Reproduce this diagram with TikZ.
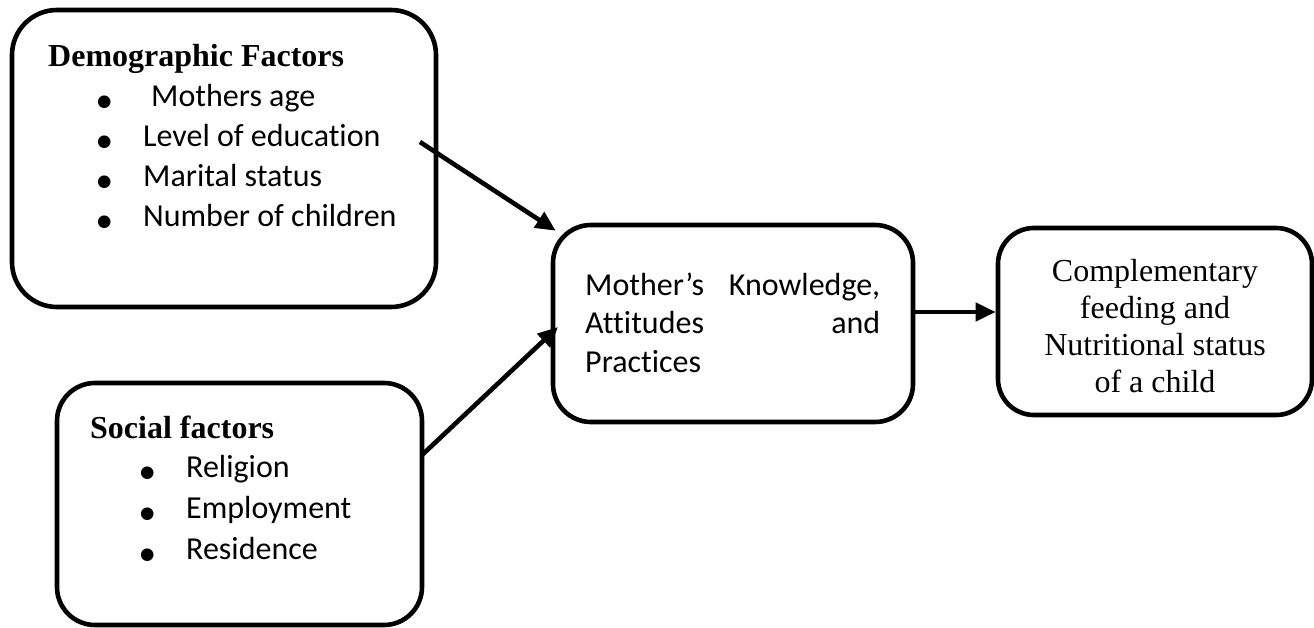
\documentclass[tikz,border=0pt]{standalone}
\usepackage{fontspec}
\setmainfont{Liberation Serif}
\newfontfamily\calib[Ligatures={NoCommon}]{Carlito}
\newfontfamily\symf{DejaVu Sans}
\usetikzlibrary{arrows.meta,calc}
\tikzset{
  box/.style={draw=black, line width=4.6pt, rounded corners=#1, fill=white},
  box/.default=40pt,
  hd/.style={anchor=base west, inner sep=0pt, font=\fontsize{32}{38}\selectfont\bfseries},
  item/.style={anchor=base west, inner sep=0pt, font=\calib\fontsize{32}{40}\selectfont},
  arr/.style={line width=4.6pt, -{Triangle[length=20pt,width=18pt]}},
}
\newcommand{\bul}[1]{\makebox[46pt][l]{{\symf\fontsize{16.5}{16.5}\selectfont ●}}#1}
\begin{document}
\begin{tikzpicture}[x=1pt,y=-1pt]
\useasboundingbox (0,0) rectangle (1314,628);
% boxes
\node[box=45pt, minimum width=424pt, minimum height=297pt, inner sep=0pt] (b1) at (224,158.5) {};
\node[box=38pt, minimum width=365pt, minimum height=242pt, inner sep=0pt] (b2) at (239.5,504) {};
\node[box=38pt, minimum width=360pt, minimum height=197pt, inner sep=0pt] (b3) at (733,323.5) {};
\node[box=36pt, minimum width=314pt, minimum height=187pt, inner sep=0pt] (b4) at (1155,321.5) {};
% box 1 text
\node[hd] (h1) at (48,67) {Demographic Factors};
\node[item] (d1) at (97,107) {\bul{\hspace{8pt}Mothers age}};
\node[item] (d2) at (97,147) {\bul{Level of education}};
\node[item] (d3) at (97,187) {\bul{Marital status}};
\node[item] (d4) at (97,227) {\bul{Number of children}};
% box 2 text
\node[hd] (h2) at (90,438) {Social factors};
\node[item] (s1) at (140,477) {\bul{Religion}};
\node[item] (s2) at (140,518) {\bul{Employment}};
\node[item] (s3) at (140,559) {\bul{Residence}};
% box 3 text
\node[anchor=base west, inner sep=0pt, align=left, font=\calib\fontsize{32}{38.5}\selectfont] (t3) at (585,372)
  {\makebox[295pt][s]{Mother’s Knowledge,}\\\makebox[295pt][s]{Attitudes and}\\Practices};
% box 4 text
\node[align=center, inner sep=0pt, font=\fontsize{32}{37}\selectfont] (t4) at (1155,326)
  {Complementary\\feeding and\\Nutritional status\\of a child};
% arrows
\coordinate (a1s) at (420,142);
\coordinate (a1e) at ($(b3.north west)+(5,8)$);
\coordinate (a2s) at (422,455);
\coordinate (a2e) at (558,327);
\coordinate (a3s) at (b3.east |- 0,312);
\coordinate (a3e) at (b4.west |- 0,312);
\draw[arr] (a1s) -- (a1e);
\draw[arr] (a2s) -- (a2e);
\draw[arr] (a3s) -- (a3e);
\end{tikzpicture}
\end{document}
